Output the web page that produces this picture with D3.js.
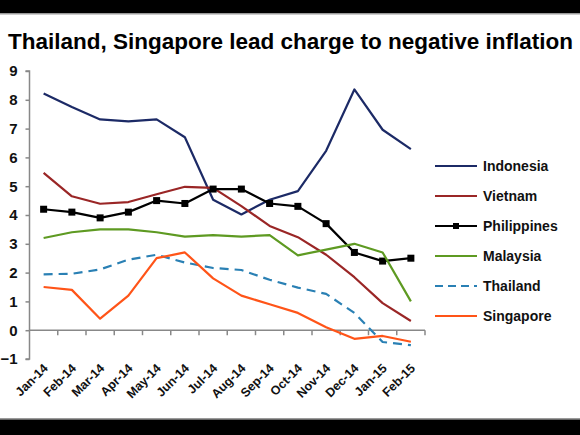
<!DOCTYPE html>
<html><head><meta charset="utf-8">
<script src="https://cdn.jsdelivr.net/npm/d3@7"></script>
<style>html,body{margin:0;padding:0;background:#fff;}svg{display:block;font-family:Arial,"Liberation Sans",sans-serif;}</style>
</head><body><svg id="c" width="580" height="435"></svg>
<script>
const months = ["Jan-14","Feb-14","Mar-14","Apr-14","May-14","Jun-14","Jul-14","Aug-14","Sep-14","Oct-14","Nov-14","Dec-14","Jan-15","Feb-15"];
const indonesia   = [8.22,7.75,7.32,7.25,7.32,6.70,4.53,4.02,4.53,4.83,6.23,8.36,6.96,6.29];
const vietnam     = [5.46,4.65,4.39,4.45,4.72,4.98,4.94,4.31,3.62,3.23,2.62,1.84,0.94,0.32];
const philippines = [4.2,4.1,3.9,4.1,4.5,4.4,4.9,4.9,4.4,4.3,3.7,2.7,2.4,2.5];
const malaysia    = [3.2,3.4,3.5,3.5,3.4,3.25,3.3,3.25,3.3,2.6,2.8,3.0,2.7,1.0];
const thailand    = [1.94,1.96,2.11,2.45,2.62,2.35,2.16,2.09,1.75,1.48,1.26,0.6,-0.41,-0.52];
const singapore   = [1.5,1.4,0.4,1.2,2.5,2.7,1.8,1.2,0.9,0.6,0.1,-0.3,-0.2,-0.4];
const yTicks = [-1,0,1,2,3,4,5,6,7,8,9];
const title = "Thailand, Singapore lead charge to negative inflation";

const series = [
  {name:"Indonesia", values:indonesia, color:"#1c2a66"},
  {name:"Vietnam", values:vietnam, color:"#9a2626"},
  {name:"Philippines", values:philippines, color:"#000000", marker:true},
  {name:"Malaysia", values:malaysia, color:"#5e9a22"},
  {name:"Thailand", values:thailand, color:"#2a80b4", dash:"9,6"},
  {name:"Singapore", values:singapore, color:"#ff5418"}
];

const svg = d3.select("#c");
// frame bars
svg.append("rect").attr("x",0).attr("y",0).attr("width",580).attr("height",13).attr("fill","#000");
svg.append("rect").attr("x",0).attr("y",13).attr("width",580).attr("height",1.5).attr("fill","#9a9a9a");
svg.append("rect").attr("x",0).attr("y",418).attr("width",580).attr("height",1.5).attr("fill","#9a9a9a");
svg.append("rect").attr("x",0).attr("y",419.5).attr("width",580).attr("height",16).attr("fill","#000");

svg.append("text").attr("x",8).attr("y",49).attr("font-size",22.5).attr("font-weight","bold").attr("fill","#000").text(title);

const x0 = 29.5, x1 = 425;
const xb = d3.scaleBand().domain(months).range([x0,x1]);
const xp = d3.scalePoint().domain(months).range([x0,x1]).padding(0.5);
const y = d3.scaleLinear().domain([-1,9]).range([359,71]);

// y axis
const ya = svg.append("g").attr("transform",`translate(${x0},0)`)
  .call(d3.axisLeft(y).tickValues(yTicks).tickSize(4).tickFormat(d3.format("d")));
ya.select(".domain").attr("stroke","#888").attr("stroke-width",1.5).attr("d",`M-4,${y(-1)}H0V${y(9)}H-4`);
ya.selectAll(".tick line").attr("stroke","#888").attr("stroke-width",1.5);
ya.selectAll(".tick text").attr("font-size",15).attr("font-weight","bold").attr("fill","#111").attr("font-family","Arial, 'Liberation Sans', sans-serif").attr("x",-12);

// x axis at y=0
const xa = svg.append("g").attr("transform",`translate(0,${y(0)})`)
  .call(d3.axisBottom(xp).tickSize(0).tickFormat(""));
xa.select(".domain").attr("stroke","#888").attr("stroke-width",1.5).attr("d",`M${x0},0H${x1}`);
const bounds = months.slice(1).map(m=>xb(m)).concat([x1]);
xa.selectAll(".bt").data(bounds).join("line").attr("class","bt")
  .attr("x1",d=>d).attr("x2",d=>d).attr("y1",0).attr("y2",5).attr("stroke","#888").attr("stroke-width",1.5);

// x labels rotated
svg.append("g").selectAll("text").data(months).join("text")
  .attr("transform",d=>`translate(${xp(d)+5},${369}) rotate(-45)`)
  .attr("text-anchor","end").attr("font-size",12.5).attr("font-weight","bold").attr("fill","#111")
  .text(d=>d);

// lines
const line = d3.line().x((d,i)=>xp(months[i])).y(d=>y(d));
const g = svg.append("g");
series.forEach(s=>{
  g.append("path").datum(s.values).attr("d",line).attr("fill","none")
    .attr("stroke",s.color).attr("stroke-width",2.2).attr("stroke-dasharray",s.dash||null)
    .attr("stroke-linejoin","round");
  if(s.marker){
    g.selectAll(".mk").data(s.values).join("rect").attr("class","mk")
      .attr("x",(d,i)=>xp(months[i])-3.5).attr("y",d=>y(d)-3.5).attr("width",7).attr("height",7).attr("fill",s.color);
  }
});

// legend
const lg = svg.append("g");
series.forEach((s,i)=>{
  const yy = 166 + i*30;
  lg.append("line").attr("x1",435).attr("x2",477).attr("y1",yy).attr("y2",yy)
    .attr("stroke",s.color).attr("stroke-width",2.2).attr("stroke-dasharray",s.dash?"8,5":null);
  if(s.marker) lg.append("rect").attr("x",453).attr("y",yy-3).attr("width",6).attr("height",6).attr("fill",s.color);
  lg.append("text").attr("x",483).attr("y",yy+5).attr("font-size",14).attr("font-weight","bold").attr("fill","#111").text(s.name);
});
</script></body></html>
